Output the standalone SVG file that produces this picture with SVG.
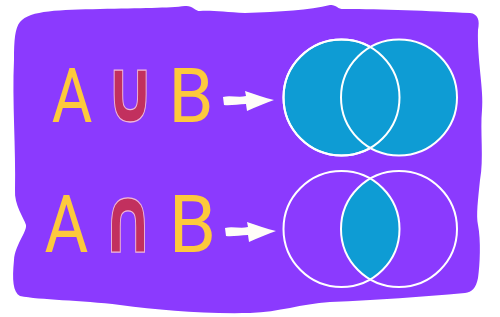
<svg xmlns="http://www.w3.org/2000/svg" width="500" height="317" viewBox="0 0 500 317">
  <style>
    .letter { font-family: Roboto, "Liberation Sans", sans-serif; font-weight: 400; fill: #FDC93C; text-anchor: middle; }
    .op { font-family: "DejaVu Sans", sans-serif; font-weight: bold; fill: #C2305E; stroke: #F0B8D8; stroke-width: 1; text-anchor: middle; }
    .ring { fill: none; stroke: #FFFFFF; stroke-width: 2; }
    .full { fill: #0E9CD4; stroke: #FFFFFF; stroke-width: 2; }
    .arrow { fill: #FFFDF8; }
  </style>
  <defs>
    <path id="arr" d="M0,-3 C7,-5 16,-2 23,-4 L22,-9 C32,-6 42,-2 51,0 C42,3 33,7 24,11 L23,4 C15,4 7,6 1,5 Z"/>
    <clipPath id="clipB2"><circle cx="399" cy="229" r="58"/></clipPath>
  </defs>
  <path id="background" fill="#8B3AFE" d="M20,22 C30,10 60,10 100,9 C140,8 170,8 185,6 C192,5 195,11 200,11 C210,10 225,12 245,13 C280,12 310,10 330,5 C336,4 338,10 345,9 C380,9 430,11 470,13 C478,14 480,20 478,30 C477,60 484,90 482,110 C480,130 484,160 480,180 C478,200 476,215 478,225 C481,240 480,265 478,278 C476,288 472,292 465,293 C420,297 380,300 330,302 C300,304 280,312 250,313 C200,314 160,310 120,305 C80,300 40,300 20,296 C13,292 12,280 14,260 C15,245 27,232 26,225 C24,218 14,205 15,190 C16,150 12,100 14,60 C14,40 15,28 20,22 Z"/>
  <g id="union-expr">
    <text class="letter" transform="translate(72,122) scale(0.82,1)" font-size="76">A</text>
    <text class="op" transform="translate(130,122) scale(0.9,1.28)" font-size="70">∪</text>
    <text class="letter" transform="translate(191,122) scale(0.95,1)" font-size="76">B</text>
  </g>
  <g id="intersection-expr">
    <text class="letter" transform="translate(66.5,252) scale(0.84,1)" font-size="80">A</text>
    <text class="op" transform="translate(128,252) scale(0.9,1.3)" font-size="72">∩</text>
    <text class="letter" transform="translate(192.5,252) scale(0.95,1)" font-size="80">B</text>
  </g>
  <g id="union-venn">
    <circle class="full" cx="341.5" cy="97.5" r="58"/>
    <circle class="full" cx="399" cy="97.5" r="58"/>
    <circle class="ring" cx="341.5" cy="97.5" r="58"/>
  </g>
  <g id="intersection-venn">
    <circle cx="341.5" cy="229" r="58" fill="#0E9CD4" clip-path="url(#clipB2)"/>
    <circle class="ring" cx="341.5" cy="229" r="58"/>
    <circle class="ring" cx="399" cy="229" r="58"/>
  </g>
  <g id="connectors">
    <use href="#arr" class="arrow" transform="translate(223,100)"/>
    <use href="#arr" class="arrow" transform="translate(225,231)"/>
  </g>
</svg>
